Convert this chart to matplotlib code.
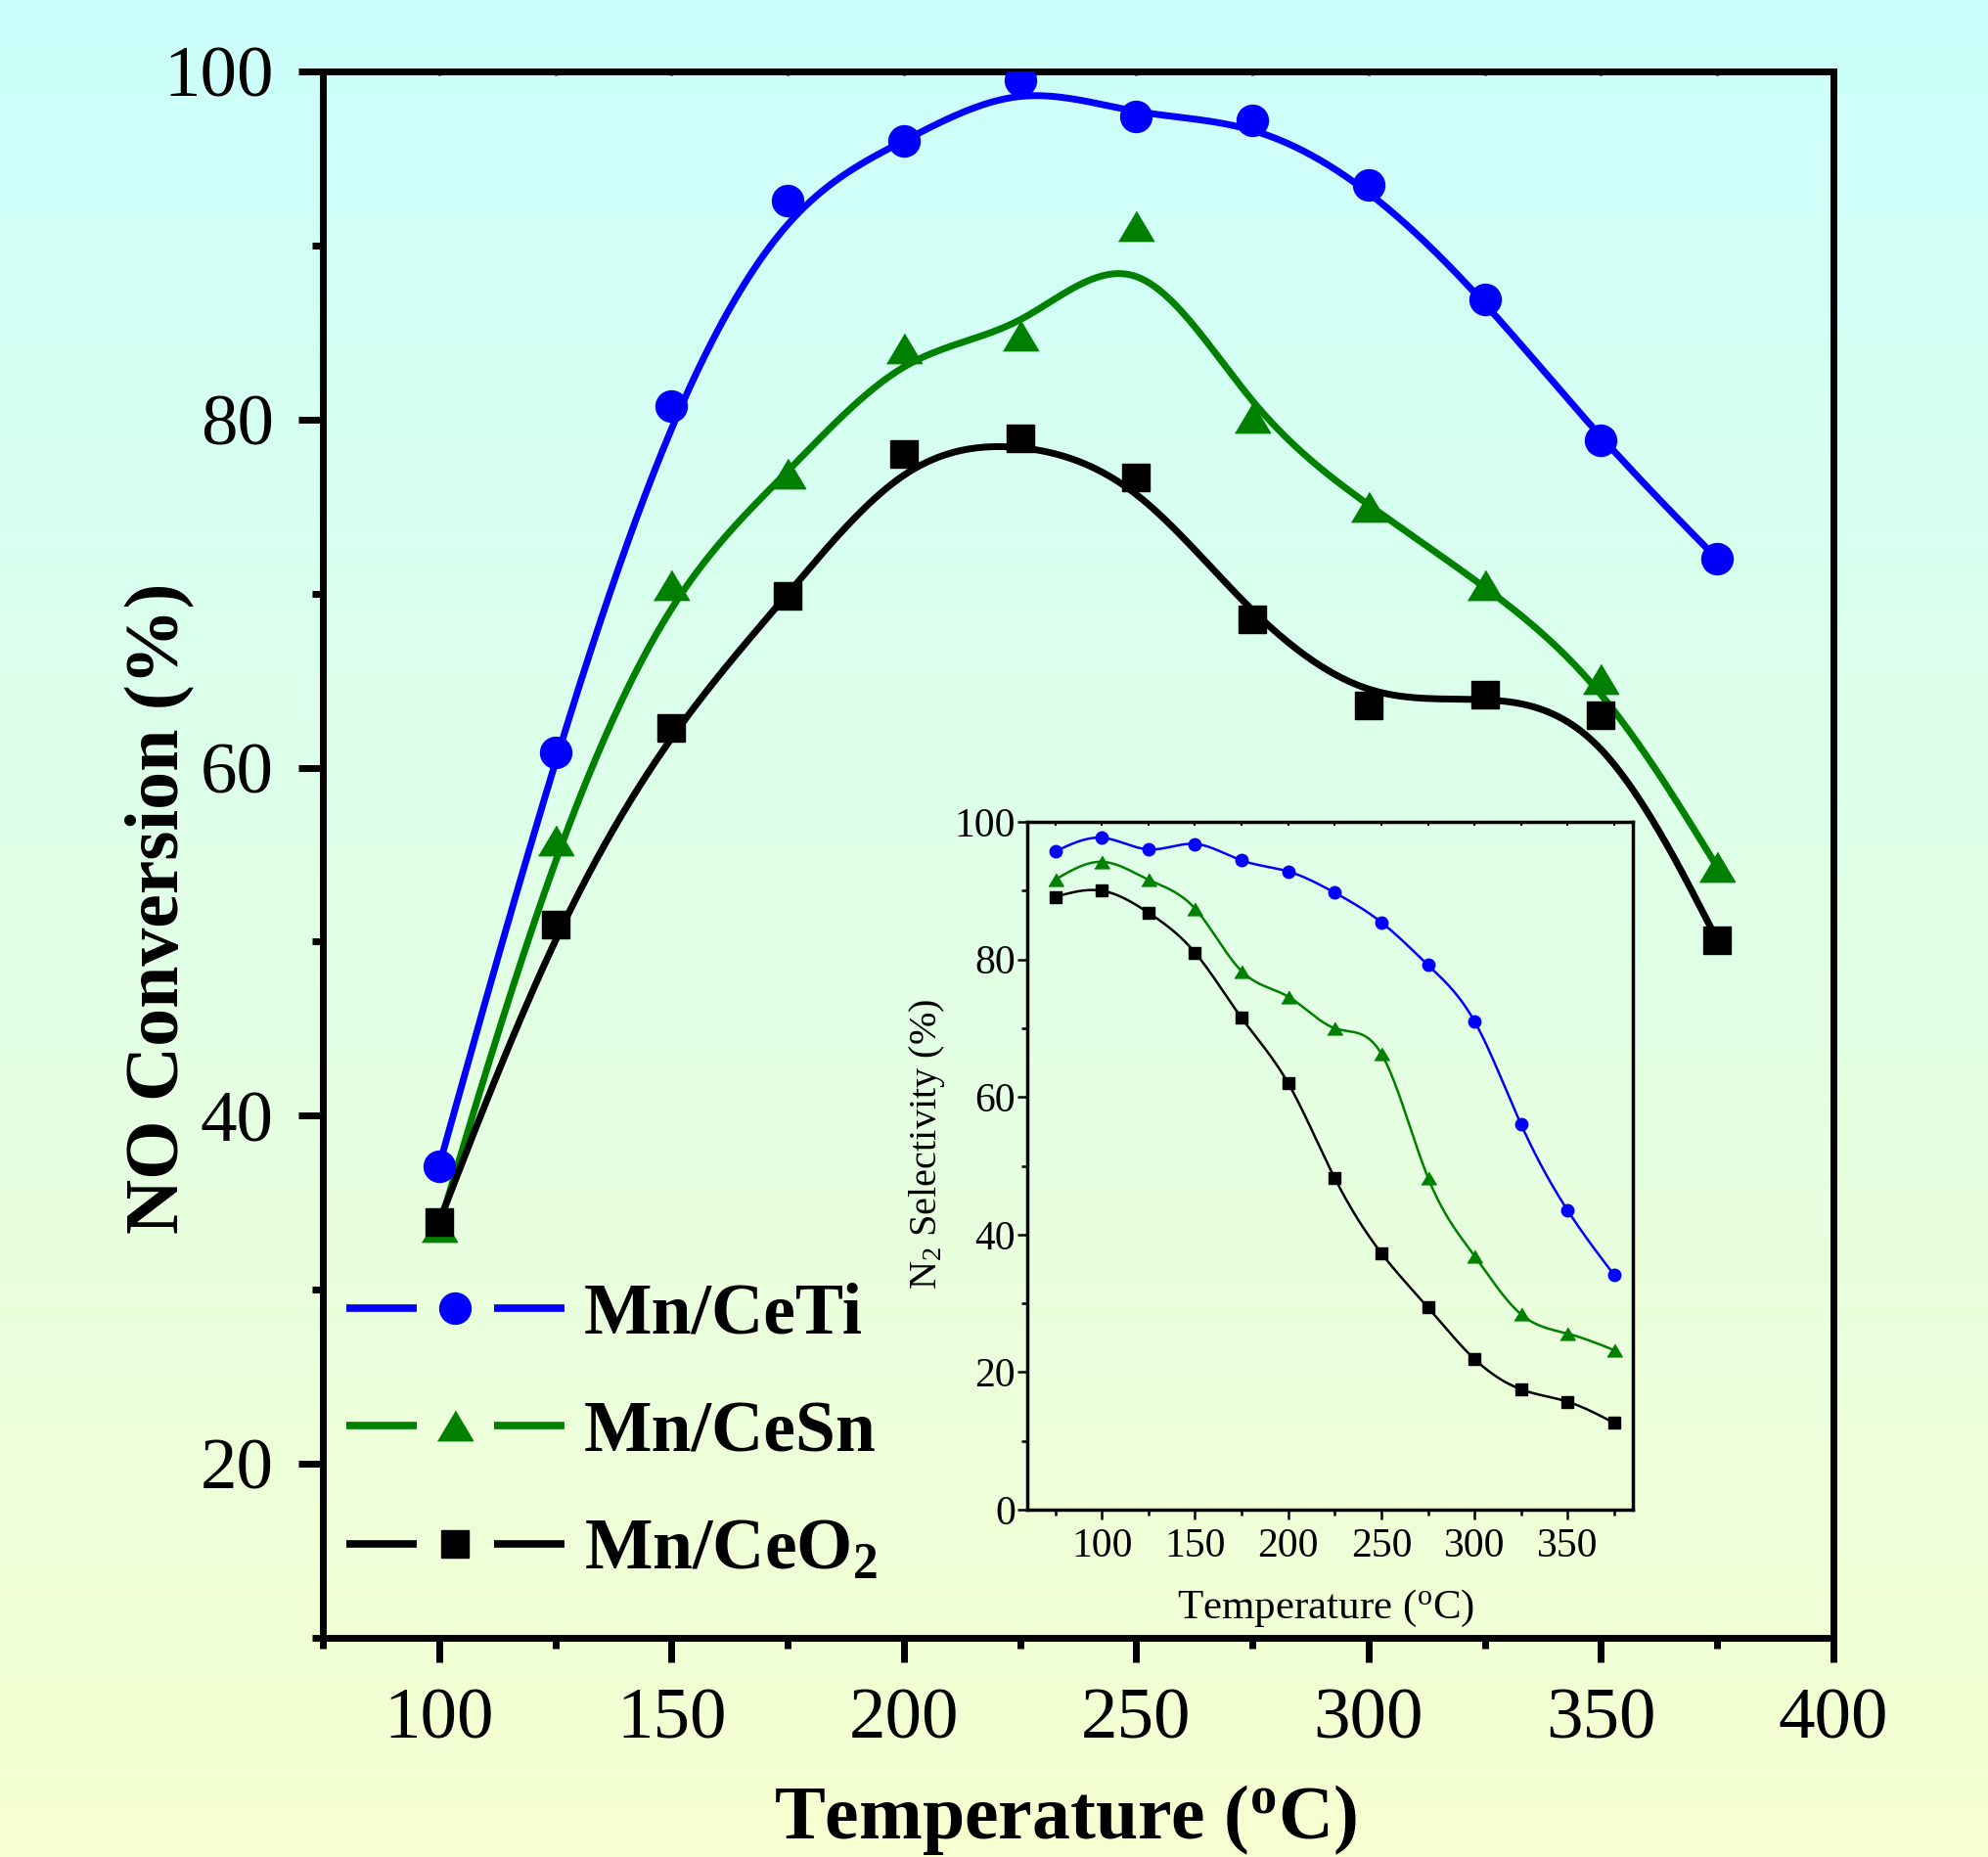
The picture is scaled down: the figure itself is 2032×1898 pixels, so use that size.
import numpy as np
import matplotlib
matplotlib.use('Agg')
import matplotlib.pyplot as plt
from matplotlib.lines import Line2D
from matplotlib.ticker import MultipleLocator

# ================= DATEN =================
temps = [100, 125, 150, 175, 200, 225, 250, 275, 300, 325, 350, 375]
conv_ceti = [37.1, 60.9, 80.8, 92.6, 96.0, 99.5, 97.4, 97.2, 93.5, 86.9, 78.8, 72.0]
conv_cesn = [33.6, 55.8, 70.5, 76.9, 84.1, 84.8, 91.1, 80.1, 75.0, 70.5, 65.1, 54.3]
conv_ceo2 = [33.9, 51.0, 62.3, 69.9, 78.0, 78.9, 76.7, 68.5, 63.6, 64.2, 63.0, 50.1]

inset_temps = [75, 100, 125, 150, 175, 200, 225, 250, 275, 300, 325, 350, 375]
sel_ceti = [95.7, 97.7, 96.0, 96.8, 94.4, 92.8, 89.7, 85.4, 79.2, 71.0, 56.0, 43.5, 34.1]
sel_cesn = [91.6, 94.2, 91.6, 87.4, 78.3, 74.6, 70.0, 66.3, 48.3, 36.9, 28.4, 25.6, 23.2]
sel_ceo2 = [89.1, 90.0, 86.8, 81.0, 71.5, 62.0, 48.2, 37.3, 29.4, 21.9, 17.5, 15.7, 12.6]

labels = ['Mn/CeTi', 'Mn/CeSn', r'Mn/CeO$\mathregular{_2}$']
colors = ['#0000ff', '#008000', '#000000']

FONT = 'Liberation Serif'
plt.rcParams['font.family'] = FONT
plt.rcParams['mathtext.fontset'] = 'custom'
plt.rcParams['mathtext.rm'] = FONT
plt.rcParams['mathtext.it'] = FONT + ':italic'
plt.rcParams['mathtext.bf'] = FONT + ':bold'


def bspline(x, y, n=40):
    """Uniforme kubische B-Spline (Endpunkte geklemmt), wie Origin"""
    px = np.r_[x[0], x[0], x, x[-1], x[-1]].astype(float)
    py = np.r_[y[0], y[0], y, y[-1], y[-1]].astype(float)
    xs, ys = [], []
    for i in range(len(px) - 3):
        t = np.linspace(0, 1, n, endpoint=(i == len(px) - 4))
        b0 = (1 - t) ** 3 / 6
        b1 = (3 * t ** 3 - 6 * t ** 2 + 4) / 6
        b2 = (-3 * t ** 3 + 3 * t ** 2 + 3 * t + 1) / 6
        b3 = t ** 3 / 6
        xs.append(b0 * px[i] + b1 * px[i + 1] + b2 * px[i + 2] + b3 * px[i + 3])
        ys.append(b0 * py[i] + b1 * py[i + 1] + b2 * py[i + 2] + b3 * py[i + 3])
    return np.concatenate(xs), np.concatenate(ys)


def natural_spline(x, y, n=400):
    """Natuerliche kubische Spline durch die Punkte"""
    x = np.asarray(x, float)
    y = np.asarray(y, float)
    N = len(x)
    h = np.diff(x)
    A = np.zeros((N, N))
    r = np.zeros(N)
    A[0, 0] = A[-1, -1] = 1
    for i in range(1, N - 1):
        A[i, i - 1] = h[i - 1]
        A[i, i] = 2 * (h[i - 1] + h[i])
        A[i, i + 1] = h[i]
        r[i] = 6 * ((y[i + 1] - y[i]) / h[i] - (y[i] - y[i - 1]) / h[i - 1])
    M = np.linalg.solve(A, r)
    xx = np.linspace(x[0], x[-1], n)
    k = np.clip(np.searchsorted(x, xx) - 1, 0, N - 2)
    dx1 = x[k + 1] - xx
    dx0 = xx - x[k]
    hk = h[k]
    yy = (M[k] * dx1 ** 3 + M[k + 1] * dx0 ** 3) / (6 * hk) \
        + (y[k] / hk - M[k] * hk / 6) * dx1 + (y[k + 1] / hk - M[k + 1] * hk / 6) * dx0
    return xx, yy


# ================= FIGUR =================
fig = plt.figure(figsize=(20.33, 18.98), dpi=100)

# Hintergrund-Verlauf: cyan oben -> gelblich unten
bg = fig.add_axes([0, 0, 1, 1], zorder=-10)
top_c = np.array([204, 255, 252]) / 255
bot_c = np.array([246, 255, 208]) / 255
f = np.linspace(0, 1, 256)[:, None]
grad = top_c[None, :] * (1 - f) + bot_c[None, :] * f
bg.imshow(grad[:, None, :], aspect='auto', extent=[0, 1, 0, 1])
bg.axis('off')

# ---------- Hauptdiagramm ----------
ax = fig.add_axes([0.1623, 0.1180, 0.7595, 0.8435])
ax.set_facecolor('none')

markers = ['o', '^', 's']
msizes = [23, 26, 20]
tri = [(-1, -0.84), (1, -0.84), (0, 0.84)]
for yv, c, m, ms in zip([conv_ceti, conv_cesn, conv_ceo2], colors, markers, msizes):
    sx, sy = bspline(temps, yv)
    ax.plot(sx, sy, color=c, lw=5, zorder=2)
    mk = tri if m == '^' else m
    ax.plot(temps, yv, linestyle='none', marker=mk, ms=ms, color=c, zorder=3)

ax.set_xlim(75, 400)
ax.set_ylim(10, 100)
ax.xaxis.set_major_locator(MultipleLocator(50))
ax.xaxis.set_minor_locator(MultipleLocator(25))
ax.yaxis.set_major_locator(MultipleLocator(20))
ax.yaxis.set_minor_locator(MultipleLocator(10))
for s in ax.spines.values():
    s.set_linewidth(5)
ax.tick_params(axis='both', which='major', direction='out', length=18, width=5,
               labelsize=54)
ax.tick_params(axis='both', which='minor', direction='out', length=8, width=5)
ax.tick_params(axis='x', which='major', pad=19)
ax.tick_params(axis='y', which='major', pad=18)

# kleine Ticks oben (innen)
top = ax.secondary_xaxis('top')
top.xaxis.set_major_locator(MultipleLocator(25))
top.tick_params(direction='in', length=3, width=2, labeltop=False)
top.spines['top'].set_visible(False)

ax.set_xlabel(r'Temperature ($\mathregular{^o}$C)', fontsize=56, fontweight='bold', va='center')
ax.xaxis.set_label_coords(0.4916, -0.116)
ax.set_ylabel('NO Conversion (%)', fontsize=56, fontweight='bold', va='center')
ax.yaxis.set_label_coords(-0.108, 0.466)

# Legende: Strich - Symbol - Strich
lw_leg = 5.5
d_pt, g_pt = 51.8, 56.9
handles = []
for c, m, ms in zip(colors, markers, msizes):
    mk = tri if m == '^' else m
    handles.append(Line2D([], [], color=c, lw=lw_leg, marker=mk, ms=ms,
                          dashes=(d_pt / lw_leg, g_pt / lw_leg)))
leg = ax.legend(handles, labels, loc='center left', bbox_to_anchor=(0.0155, 0.1305),
                frameon=False, handlelength=3.03, handletextpad=0.27, borderpad=0,
                borderaxespad=0, labelspacing=0.71, numpoints=1,
                prop={'family': FONT, 'weight': 'bold', 'size': 53})

# ---------- Einschub: N2-Selektivitaet ----------
ins = fig.add_axes([0.5165, 0.1870, 0.3045, 0.3704])
ins.set_facecolor('none')
imsizes = [9, 11, 8.5]
for yv, c, m, ms in zip([sel_ceti, sel_cesn, sel_ceo2], colors, markers, imsizes):
    sx, sy = natural_spline(inset_temps, yv)
    ins.plot(sx, sy, color=c, lw=1.8, zorder=2)
    mk = tri if m == '^' else m
    ins.plot(inset_temps, yv, linestyle='none', marker=mk, ms=ms, color=c, zorder=3)

ins.set_xlim(60, 385)
ins.set_ylim(0, 100)
ins.xaxis.set_major_locator(MultipleLocator(50))
ins.xaxis.set_minor_locator(MultipleLocator(25))
ins.yaxis.set_major_locator(MultipleLocator(20))
ins.yaxis.set_minor_locator(MultipleLocator(10))
for s in ins.spines.values():
    s.set_linewidth(2.5)
ins.tick_params(axis='both', which='major', direction='out', length=7, width=1.8,
                labelsize=30)
ins.tick_params(axis='both', which='minor', direction='out', length=4, width=1.8)
ins.tick_params(axis='x', which='major', pad=6)
ins.tick_params(axis='y', which='major', pad=1.5)
itop = ins.secondary_xaxis('top')
itop.xaxis.set_major_locator(MultipleLocator(25))
itop.tick_params(direction='in', length=3, width=1.5, labeltop=False)
itop.spines['top'].set_visible(False)
ins.set_xlabel(r'Temperature ($\mathregular{^o}$C)', fontsize=31, va='center')
ins.xaxis.set_label_coords(0.493, -0.144)
ins.set_ylabel(r'N$\mathregular{_2}$ Selectivity (%)', fontsize=29, va='center')
ins.yaxis.set_label_coords(-0.166, 0.531)

fig.savefig('out.png', dpi=100)
